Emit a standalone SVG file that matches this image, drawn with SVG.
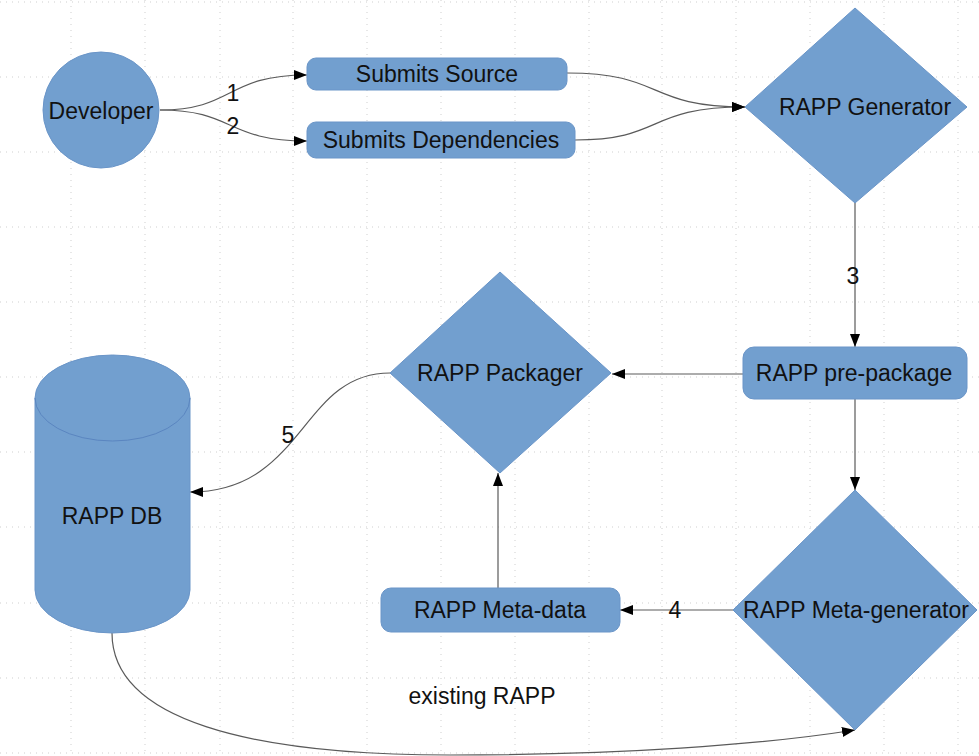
<svg xmlns="http://www.w3.org/2000/svg" width="979" height="756" viewBox="0 0 979 756">
<defs>
<style>
.grid line{stroke:#cfcfcf;stroke-width:1;stroke-dasharray:1 5}
.shape{fill:#729fcf;stroke:#6a95c8;stroke-width:1}
.t{font-family:"Liberation Sans",Arial,sans-serif;font-size:23px;fill:#111;text-anchor:middle}
.edge{fill:none;stroke:#5a5a5a;stroke-width:1.2}
</style>
<marker id="arr" markerUnits="userSpaceOnUse" markerWidth="14" markerHeight="12" refX="13" refY="5" orient="auto">
<path d="M0,0 L13,5 L0,10 z" fill="#000"/>
</marker>
</defs>
<rect width="979" height="756" fill="#fff"/>
<g class="grid">
<line x1="0" y1="2" x2="979" y2="2"/><line x1="0" y1="77" x2="979" y2="77"/><line x1="0" y1="152" x2="979" y2="152"/><line x1="0" y1="227" x2="979" y2="227"/><line x1="0" y1="302" x2="979" y2="302"/><line x1="0" y1="377" x2="979" y2="377"/><line x1="0" y1="452" x2="979" y2="452"/><line x1="0" y1="527" x2="979" y2="527"/><line x1="0" y1="603" x2="979" y2="603"/><line x1="0" y1="678" x2="979" y2="678"/><line x1="0" y1="753" x2="979" y2="753"/>
<line x1="71" y1="0" x2="71" y2="756"/><line x1="145" y1="0" x2="145" y2="756"/><line x1="220" y1="0" x2="220" y2="756"/><line x1="293" y1="0" x2="293" y2="756"/><line x1="367" y1="0" x2="367" y2="756"/><line x1="441" y1="0" x2="441" y2="756"/><line x1="515" y1="0" x2="515" y2="756"/><line x1="589" y1="0" x2="589" y2="756"/><line x1="662" y1="0" x2="662" y2="756"/><line x1="736" y1="0" x2="736" y2="756"/><line x1="810" y1="0" x2="810" y2="756"/><line x1="884" y1="0" x2="884" y2="756"/><line x1="958" y1="0" x2="958" y2="756"/>
</g>
<g id="connectors">
<path class="edge" d="M160,110 C235,110 225,75 307,75" marker-end="url(#arr)"/>
<path class="edge" d="M160,110 C235,110 225,141 307,141" marker-end="url(#arr)"/>
<path class="edge" d="M567,73 C665,73 645,107 745,107" marker-end="url(#arr)"/>
<path class="edge" d="M575,140 C665,140 645,107 745,107" marker-end="url(#arr)"/>
<path class="edge" d="M855,203 L855,347" marker-end="url(#arr)"/>
<path class="edge" d="M743,374 L612,374" marker-end="url(#arr)"/>
<path class="edge" d="M855,399 L855,490" marker-end="url(#arr)"/>
<path class="edge" d="M733,610 L620,610" marker-end="url(#arr)"/>
<path class="edge" d="M498,588 L498,473" marker-end="url(#arr)"/>
<path class="edge" d="M390,373 C300,373 305,492 190,492" marker-end="url(#arr)"/>
<path class="edge" d="M112,633 C112,720 250,755 450,755 C620,755 760,745 855,730" marker-end="url(#arr)"/>
<text class="t" x="233" y="101">1</text>
<text class="t" x="233" y="134">2</text>
<text class="t" x="853" y="284">3</text>
<text class="t" x="675" y="618">4</text>
<text class="t" x="288" y="443">5</text>
<text class="t" x="482" y="704">existing RAPP</text>
</g>
<g id="developer"><circle class="shape" cx="101" cy="110" r="58"/><text class="t" x="101" y="119">Developer</text></g>
<g id="submits-source"><rect class="shape" x="307" y="58" width="260" height="32" rx="9"/><text class="t" x="437" y="82">Submits Source</text></g>
<g id="submits-deps"><rect class="shape" x="307" y="122" width="268" height="36" rx="9"/><text class="t" x="441" y="148">Submits Dependencies</text></g>
<g id="rapp-generator"><path class="shape" d="M855,8 L967,107 L855,203 L745,107 z"/><text class="t" x="865" y="115">RAPP Generator</text></g>
<g id="rapp-prepackage"><rect class="shape" x="743" y="347" width="224" height="52" rx="11"/><text class="t" x="854" y="381">RAPP pre-package</text></g>
<g id="rapp-packager"><path class="shape" d="M500,272 L611,373 L500,473 L390,373 z"/><text class="t" x="500" y="381">RAPP Packager</text></g>
<g id="rapp-db"><path class="shape" d="M35,398 A77.5,43 0 0 1 190,398 L190,590 A77.5,43 0 0 1 35,590 z"/><path d="M35,398 A77.5,43 0 0 0 190,398" fill="none" stroke="#5a85c0" stroke-width="1"/><text class="t" x="112" y="524">RAPP DB</text></g>
<g id="rapp-metadata"><rect class="shape" x="381" y="588" width="239" height="44" rx="10"/><text class="t" x="500" y="618">RAPP Meta-data</text></g>
<g id="rapp-metagenerator"><path class="shape" d="M855,490 L977,610 L855,730 L733,610 z"/><text class="t" x="856" y="618">RAPP Meta-generator</text></g>
</svg>
